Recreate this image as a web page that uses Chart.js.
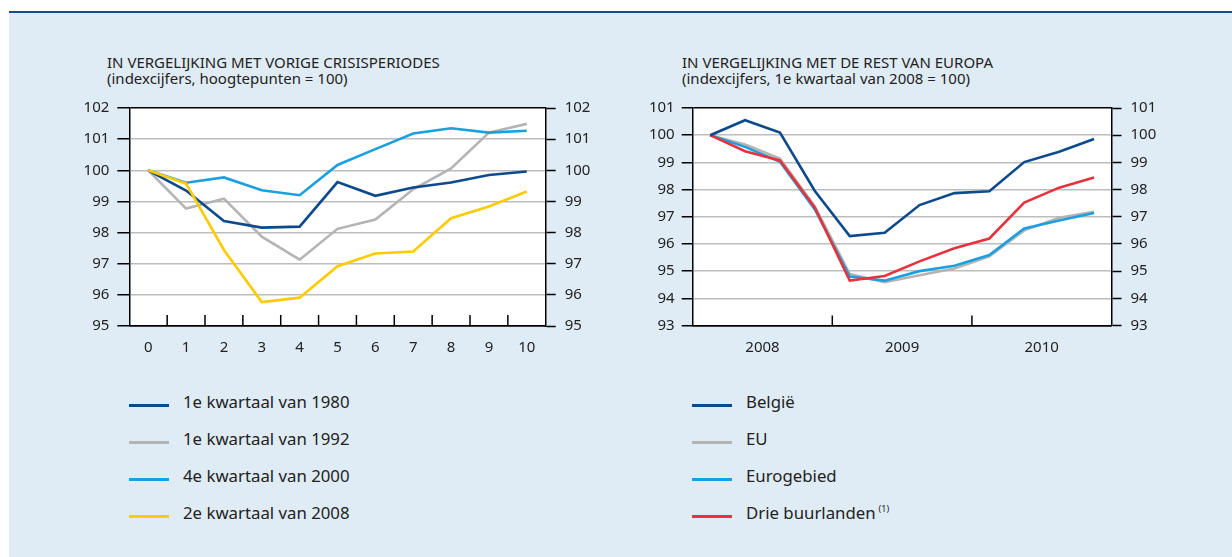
<!DOCTYPE html>
<html>
<head>
<meta charset="utf-8">
<script src="https://cdn.jsdelivr.net/npm/chart.js@4.4.1/dist/chart.umd.min.js"></script>
<style>
html,body{margin:0;padding:0;background:#fff;width:1232px;height:557px;overflow:hidden;font-family:'Noto Sans',sans-serif;color:#222;}
#topline{position:absolute;left:9px;right:0;top:11px;height:2px;background:#1b4b87;}
#panel{position:absolute;left:9px;right:0;top:13px;bottom:0;background:#e0ecf5;}
.title{position:absolute;font-size:15px;line-height:16px;white-space:nowrap;}
canvas{position:absolute;}
.legend{position:absolute;font-size:16.8px;}
.row{position:absolute;left:0;height:20px;line-height:20px;white-space:nowrap;}
.sw{position:absolute;left:0;top:10px;width:40px;height:3px;}
.txt{position:absolute;top:-2px;}
sup{font-size:9px;vertical-align:top;position:relative;top:-4px;margin-left:3px;}
</style>
</head>
<body>
<div id="topline"></div>
<div id="panel"></div>
<div class="title" style="left:107px;top:54px;">IN VERGELIJKING MET VORIGE CRISISPERIODES<br>(indexcijfers, hoogtepunten = 100)</div>
<div class="title" style="left:682px;top:54px;">IN VERGELIJKING MET DE REST VAN EUROPA<br>(indexcijfers, 1e kwartaal van 2008 = 100)</div>
<canvas id="c1" width="540" height="280" style="left:60px;top:90px;width:540px;height:280px;"></canvas>
<canvas id="c2" width="580" height="280" style="left:620px;top:90px;width:580px;height:280px;"></canvas>
<div class="legend" id="lg1" style="left:129px;top:390px;"></div>
<div class="legend" id="lg2" style="left:692px;top:390px;"></div>
<script>
// ---- Left chart data: quarters since peak ----
const crisisQuarters = ['0','1','2','3','4','5','6','7','8','9','10'];
const crisisTicks = [95,96,97,98,99,100,101,102];
const q1980 = [100, 99.35, 98.37, 98.16, 98.19, 99.62, 99.18, 99.45, 99.61, 99.85, 99.96];
const q1992 = [100, 98.77, 99.09, 97.87, 97.13, 98.12, 98.42, 99.39, 100.06, 101.21, 101.49];
const q2000 = [100, 99.60, 99.77, 99.36, 99.20, 100.17, 100.68, 101.18, 101.35, 101.21, 101.27];
const q2008 = [100, 99.57, 97.44, 95.77, 95.91, 96.92, 97.33, 97.39, 98.46, 98.84, 99.32];
const crisisLabels = ['1e kwartaal van 1980','1e kwartaal van 1992','4e kwartaal van 2000','2e kwartaal van 2008'];

// ---- Right chart data: quarters 2008-2010 ----
const quarterLabels = ['2008 K1','2008 K2','2008 K3','2008 K4','2009 K1','2009 K2','2009 K3','2009 K4','2010 K1','2010 K2','2010 K3','2010 K4'];
const yearLabels = ['2008','2009','2010'];
const europeTicks = [93,94,95,96,97,98,99,100,101];
const belgie = [100, 100.55, 100.10, 97.95, 96.29, 96.41, 97.43, 97.87, 97.94, 99.01, 99.39, 99.86];
const eu = [100, 99.66, 99.14, 97.38, 94.89, 94.59, 94.85, 95.10, 95.54, 96.50, 96.96, 97.18];
const eurogebied = [100, 99.57, 99.02, 97.27, 94.80, 94.65, 95.00, 95.20, 95.59, 96.57, 96.86, 97.14];
const drieBuurlanden = [100, 99.41, 99.07, 97.33, 94.65, 94.82, 95.36, 95.84, 96.20, 97.52, 98.07, 98.44];
const europeLabels = ['België','EU','Eurogebied','Drie buurlanden'];
const europeNotes = ['','','','(1)'];

const C_DARK = '#0c4a8c', C_GRAY = '#b4b4b4', C_LIGHT = '#1aa0e0', C_YELLOW = '#fdcb00', C_RED = '#e6333b';

Chart.defaults.font.family = "'Noto Sans', sans-serif";
Chart.defaults.font.size = 15;
Chart.defaults.color = '#222';

const plotBg = {
  id: 'plotBg',
  beforeDraw(chart) {
    const a = chart.chartArea, ctx = chart.ctx;
    ctx.save(); ctx.fillStyle = '#fff';
    ctx.fillRect(a.left, a.top, a.right - a.left, a.bottom - a.top);
    ctx.restore();
  }
};
const innerTicks = {
  id: 'innerTicks',
  afterDraw(chart, args, opts) {
    const s = chart.scales[opts.axis], ctx = chart.ctx, n = s.ticks.length;
    const b = chart.chartArea.bottom;
    ctx.save(); ctx.strokeStyle = '#000'; ctx.lineWidth = 1.5;
    for (let i = 1; i < n; i++) {
      const x = (s.getPixelForTick(i - 1) + s.getPixelForTick(i)) / 2;
      ctx.beginPath(); ctx.moveTo(x, b); ctx.lineTo(x, b - opts.length); ctx.stroke();
    }
    ctx.restore();
  }
};

function yAxes(ticksArr, leftW, rightW, leftTick, rightTick, lp, rp) {
  const mn = ticksArr[0], mx = ticksArr[ticksArr.length - 1];
  const gridColor = c => (c.tick && (c.tick.value === mn || c.tick.value === mx)) ? '#000' : '#bdbdbd';
  return {
    y: {
      position: 'left', min: mn, max: mx,
      afterFit: s => { s.width = leftW; },
      afterBuildTicks: s => { s.ticks = ticksArr.map(v => ({value: v})); },
      ticks: {padding: lp},
      grid: {color: gridColor, lineWidth: 1.5, tickColor: '#000', tickWidth: 1.5, tickLength: leftTick},
      border: {color: '#000', width: 1.5}
    },
    y2: {
      position: 'right', min: mn, max: mx,
      afterFit: s => { s.width = rightW; },
      afterBuildTicks: s => { s.ticks = ticksArr.map(v => ({value: v})); },
      ticks: {padding: rp},
      grid: {drawOnChartArea: false, tickColor: '#000', tickWidth: 1.5, tickLength: rightTick},
      border: {color: '#000', width: 1.5}
    }
  };
}

function ds(label, data, color, order) {
  return {label, data, borderColor: color, backgroundColor: color, borderWidth: 2.6,
          pointRadius: 0, tension: 0, fill: false, order, borderJoinStyle: 'miter', xAxisID: 'x'};
}

const chart1 = new Chart(document.getElementById('c1'), {
  type: 'line',
  data: {
    labels: crisisQuarters,
    datasets: [
      ds(crisisLabels[0], q1980, C_DARK, 1),
      ds(crisisLabels[1], q1992, C_GRAY, 3),
      ds(crisisLabels[2], q2000, C_LIGHT, 2),
      ds(crisisLabels[3], q2008, C_YELLOW, 0)
    ]
  },
  options: {
    responsive: false, animation: false, devicePixelRatio: 1,
    layout: {padding: {top: 16, left: 0, right: 0, bottom: 0}},
    plugins: {legend: {display: false}, tooltip: {enabled: false}, innerTicks: {axis: 'x', length: 11}},
    scales: Object.assign({
      x: {
        type: 'category', offset: true,
        afterFit: s => { s.height = 44; },
        grid: {drawOnChartArea: false, drawTicks: false},
        border: {color: '#000', width: 1.5},
        ticks: {padding: 13, maxRotation: 0, autoSkip: false}
      }
    }, yAxes(crisisTicks, 69.3, 54.3, 12, 10, 8, 9))
  },
  plugins: [plotBg, innerTicks]
});

const chart2 = new Chart(document.getElementById('c2'), {
  type: 'line',
  data: {
    labels: quarterLabels,
    datasets: [
      ds(europeLabels[0], belgie, C_DARK, 0),
      ds(europeLabels[1], eu, C_GRAY, 3),
      ds(europeLabels[2], eurogebied, C_LIGHT, 2),
      ds(europeLabels[3], drieBuurlanden, C_RED, 1)
    ]
  },
  options: {
    responsive: false, animation: false, devicePixelRatio: 1,
    layout: {padding: {top: 16, left: 0, right: 0, bottom: 0}},
    plugins: {legend: {display: false}, tooltip: {enabled: false}, innerTicks: {axis: 'xYear', length: 10}},
    scales: Object.assign({
      x: {type: 'category', offset: true, display: false},
      xYear: {
        type: 'category', labels: yearLabels, position: 'bottom', offset: true,
        afterFit: s => { s.height = 44.5; },
        grid: {drawOnChartArea: false, drawTicks: false},
        border: {color: '#000', width: 1.5},
        ticks: {padding: 13, maxRotation: 0, autoSkip: false}
      }
    }, yAxes(europeTicks, 72.7, 88.5, 11, 10, 7, 9))
  },
  plugins: [plotBg, innerTicks]
});

function buildLegend(el, chart, notes) {
  const rowCenters = [405, 442, 479.5, 516.5];
  chart.data.datasets.forEach((d, i) => {
    const row = document.createElement('div');
    row.className = 'row';
    row.style.top = (rowCenters[i] - 390 - 11.5) + 'px';
    const sw = document.createElement('span');
    sw.className = 'sw'; sw.style.background = d.borderColor;
    const t = document.createElement('span');
    t.className = 'txt'; t.style.left = '54px';
    t.textContent = d.label;
    if (notes && notes[i]) { const s = document.createElement('sup'); s.textContent = notes[i]; t.appendChild(s); }
    row.appendChild(sw); row.appendChild(t);
    el.appendChild(row);
  });
}
buildLegend(document.getElementById('lg1'), chart1, null);
buildLegend(document.getElementById('lg2'), chart2, europeNotes);
</script>
</body>
</html>
